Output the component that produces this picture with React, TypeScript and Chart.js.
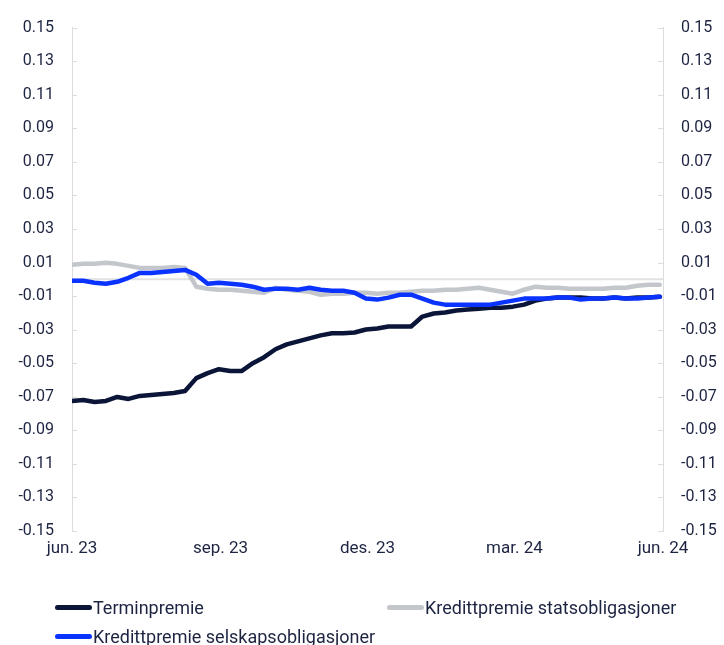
import React, { useEffect, useRef } from "react";
import { Chart, registerables } from "chart.js";

Chart.register(...registerables);

const dates: string[] = [
  "2023-06-01", "2023-06-08", "2023-06-15", "2023-06-22", "2023-06-29",
  "2023-07-06", "2023-07-13", "2023-07-20", "2023-07-27", "2023-08-03",
  "2023-08-10", "2023-08-17", "2023-08-24", "2023-08-31", "2023-09-07",
  "2023-09-14", "2023-09-21", "2023-09-28", "2023-10-05", "2023-10-12",
  "2023-10-19", "2023-10-26", "2023-11-02", "2023-11-09", "2023-11-16",
  "2023-11-23", "2023-11-30", "2023-12-07", "2023-12-14", "2023-12-21",
  "2023-12-28", "2024-01-04", "2024-01-11", "2024-01-18", "2024-01-25",
  "2024-02-01", "2024-02-08", "2024-02-15", "2024-02-22", "2024-02-29",
  "2024-03-07", "2024-03-14", "2024-03-21", "2024-03-28", "2024-04-04",
  "2024-04-11", "2024-04-18", "2024-04-25", "2024-05-02", "2024-05-09",
  "2024-05-16", "2024-05-23", "2024-05-30",
];

const terminpremie: number[] = [
  -0.0725, -0.0719, -0.0731, -0.0725, -0.0701, -0.0713, -0.0695, -0.0689, -0.0683, -0.0678,
  -0.0666, -0.0589, -0.0559, -0.0536, -0.0547, -0.0547, -0.05, -0.0464, -0.0417, -0.0388,
  -0.037, -0.0352, -0.0334, -0.0322, -0.0322, -0.0317, -0.0299, -0.0293, -0.0281, -0.0281,
  -0.0281, -0.0222, -0.0204, -0.0198, -0.0186, -0.018, -0.0175, -0.0169, -0.0169, -0.0163,
  -0.0151, -0.0127, -0.0115, -0.0109, -0.0109, -0.0109, -0.0115, -0.0115, -0.0109, -0.0115,
  -0.0109, -0.0109, -0.0104,
];

const statsobligasjoner: number[] = [
  0.0086, 0.0092, 0.0092, 0.0098, 0.0092, 0.008, 0.0068, 0.0068, 0.0068, 0.0074,
  0.0068, -0.0044, -0.0056, -0.0062, -0.0062, -0.0068, -0.0074, -0.008, -0.005, -0.0062,
  -0.0068, -0.0074, -0.0092, -0.0086, -0.0086, -0.008, -0.008, -0.0086, -0.008, -0.008,
  -0.0074, -0.0068, -0.0068, -0.0062, -0.0062, -0.0056, -0.005, -0.0062, -0.0074, -0.0086,
  -0.0062, -0.0044, -0.005, -0.005, -0.0056, -0.0056, -0.0056, -0.0056, -0.005, -0.005,
  -0.0038, -0.0033, -0.0033,
];

const selskapsobligasjoner: number[] = [
  -0.0009, -0.0009, -0.0021, -0.0027, -0.0015, 0.0009, 0.0038, 0.0038, 0.0044, 0.005,
  0.0056, 0.0027, -0.0027, -0.0021, -0.0027, -0.0033, -0.0044, -0.0062, -0.0056, -0.0056,
  -0.0062, -0.005, -0.0062, -0.0068, -0.0068, -0.008, -0.0115, -0.0121, -0.0109, -0.0092,
  -0.0092, -0.0115, -0.0139, -0.0151, -0.0151, -0.0151, -0.0151, -0.0151, -0.0139, -0.0127,
  -0.0115, -0.0115, -0.0115, -0.0109, -0.0109, -0.0121, -0.0115, -0.0115, -0.0109, -0.0115,
  -0.0115, -0.0109, -0.0104,
];

const xTickDates: string[] = ["2023-06-01", "2023-09-01", "2023-12-01", "2024-03-01", "2024-06-01"];
const xTickLabels: string[] = ["jun. 23", "sep. 23", "des. 23", "mar. 24", "jun. 24"];

const seriesNames: string[] = [
  "Terminpremie",
  "Kredittpremie statsobligasjoner",
  "Kredittpremie selskapsobligasjoner",
];
const seriesColors: string[] = ["#0b1538", "#c3c6cb", "#0b33ff"];

const yMin = -0.15;
const yMax = 0.15;
const yStep = 0.02;

const START = Date.UTC(2023, 5, 1);
const dayOffset = (s: string) => {
  const [y, m, d] = s.split("-").map(Number);
  return Math.round((Date.UTC(y, m - 1, d) - START) / 86400000);
};

const TEXT = "#1d2442";
const AXIS = "#dcdcdc";
const FONT = "Roboto, 'Liberation Sans', sans-serif";

const decorPlugin = {
  id: "decor",
  beforeDatasetsDraw(chart: any) {
    const { ctx, chartArea } = chart;
    const y = chart.scales.y;
    ctx.save();
    // zero line
    const zy = y.getPixelForValue(0);
    ctx.strokeStyle = "#e2e2e2";
    ctx.lineWidth = 2;
    ctx.beginPath();
    ctx.moveTo(chartArea.left, zy);
    ctx.lineTo(chartArea.right, zy);
    ctx.stroke();
    // inward tick marks
    ctx.strokeStyle = AXIS;
    ctx.lineWidth = 1;
    y.ticks.forEach((t: any) => {
      const py = Math.round(y.getPixelForValue(t.value)) + 0.5;
      ctx.beginPath();
      ctx.moveTo(chartArea.left, py);
      ctx.lineTo(chartArea.left + 5, py);
      ctx.moveTo(chartArea.right, py);
      ctx.lineTo(chartArea.right - 5, py);
      ctx.stroke();
    });
    ctx.restore();
  },
};

export default function App() {
  const ref = useRef<HTMLCanvasElement | null>(null);

  useEffect(() => {
    if (!ref.current) return;
    const seriesData = [terminpremie, statsobligasjoner, selskapsobligasjoner];
    const orders = [1, 2, 0];
    const xTicks = xTickDates.map(dayOffset);

    const yAxis = (position: "left" | "right", width: number) => ({
      type: "linear" as const,
      position,
      min: yMin,
      max: yMax,
      afterFit: (scale: any) => {
        scale.width = width;
      },
      afterBuildTicks: (scale: any) => {
        const ticks = [];
        const n = Math.round((yMax - yMin) / yStep);
        for (let i = 0; i <= n; i++) ticks.push({ value: yMin + i * yStep });
        scale.ticks = ticks;
      },
      ticks: {
        padding: 18,
        color: TEXT,
        font: { family: FONT, size: 16 },
        callback: (v: any) => Number(v).toFixed(2),
      },
      grid: { display: true, drawOnChartArea: false, drawTicks: false },
      border: { display: true, color: AXIS, width: 1 },
    });

    const chart = new Chart(ref.current, {
      type: "line",
      data: {
        datasets: seriesData.map((arr, i) => ({
          label: seriesNames[i],
          data: arr.map((v, j) => ({ x: dayOffset(dates[j]), y: v })),
          borderColor: seriesColors[i],
          backgroundColor: seriesColors[i],
          borderWidth: 4.5,
          pointRadius: 0,
          tension: 0,
          order: orders[i],
          borderJoinStyle: "round" as const,
          borderCapStyle: "round" as const,
        })),
      },
      options: {
        responsive: false,
        animation: false,
        layout: { padding: { left: 0, right: 0, top: 24, bottom: 74 } },
        plugins: { legend: { display: false }, tooltip: { enabled: false } },
        scales: {
          x: {
            type: "linear",
            min: xTicks[0],
            max: xTicks[xTicks.length - 1],
            afterFit: (scale: any) => {
              scale.height = 40;
            },
            afterBuildTicks: (scale: any) => {
              scale.ticks = xTicks.map((v) => ({ value: v }));
            },
            ticks: {
              padding: 8,
              color: TEXT,
              maxRotation: 0,
              autoSkip: false,
              font: { family: FONT, size: 17 },
              callback: (v: any) => {
                const idx = xTicks.indexOf(Number(v));
                return idx >= 0 ? xTickLabels[idx] : "";
              },
            },
            grid: { display: false, drawTicks: false },
            border: { display: false },
          },
          y: yAxis("left", 72),
          y2: yAxis("right", 61),
        },
      },
      plugins: [decorPlugin],
    });
    return () => chart.destroy();
  }, []);

  const legendPos = [
    { left: 55, top: 607 },
    { left: 387, top: 607 },
    { left: 55, top: 636 },
  ];

  return (
    <div style={{ position: "fixed", left: 0, top: 0, width: 724, height: 645, background: "#fff", overflow: "hidden" }}>
      <canvas ref={ref} width={724} height={645} style={{ display: "block" }} />
      {seriesNames.map((name, i) => (
        <div
          key={name}
          style={{
            position: "absolute",
            left: legendPos[i].left,
            top: legendPos[i].top - 12,
            height: 24,
            display: "flex",
            alignItems: "center",
            fontFamily: FONT,
            fontSize: 18,
            color: TEXT,
            whiteSpace: "nowrap",
          }}
        >
          <span
            style={{
              display: "inline-block",
              width: 37,
              height: 5,
              borderRadius: 3,
              background: seriesColors[i],
              marginRight: 1,
            }}
          />
          <span>{name}</span>
        </div>
      ))}
    </div>
  );
}
